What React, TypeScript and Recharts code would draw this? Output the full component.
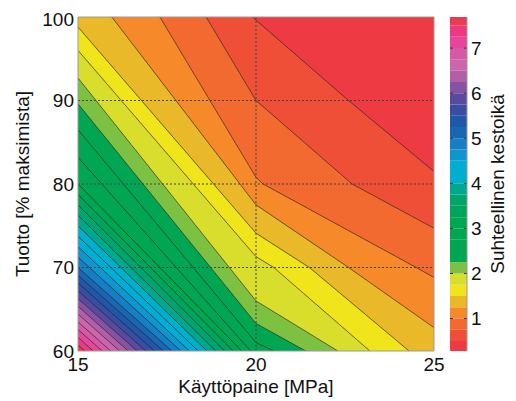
import React from 'react';
import { ComposedChart, BarChart, Area, Line, Bar, XAxis, YAxis, ReferenceLine } from 'recharts';

const FONT = '"Liberation Sans", Arial, sans-serif';

const pressureTicks = [15, 20, 25];
const yieldTicks = [60, 70, 80, 90, 100];
const colorbarTicks = [1, 2, 3, 4, 5, 6, 7];

// contour levels (relative lifetime)
const levels = [
  0.5, 0.75, 1.0, 1.25, 1.5, 1.75, 2.0, 2.25, 2.5, 2.75, 3.0, 3.25, 3.5, 3.75, 4.0,
  4.25, 4.5, 4.75, 5.0, 5.25, 5.5, 5.75, 6.0, 6.25, 6.5, 6.75, 7.0, 7.25, 7.5,
];

// colour of each band, from 0.25 upwards in steps of 0.25
const bandColors = [
  '#ee3a42', '#ef4f37', '#f26a30', '#f68a2b', '#e9b92a', '#efe51a', '#d9dd2c', '#7dc143',
  '#00a651', '#00a651', '#00a651', '#00a651', '#00a55c', '#00a46c', '#00a88e', '#00afcc',
  '#00add4', '#0f96cf', '#167ec4', '#1b66b3', '#2157a8', '#374ea1', '#5a4a9f', '#8653a3',
  '#b25fa8', '#cb66ad', '#d45aa8', '#e5469c', '#ec3a82', '#ee3a4e',
];

// contour lines, [pressure MPa, yield %]
const contourLines = [
  [[19.9, 100], [22.6, 90], [25, 81.5]],
  [[18.6, 100], [20, 90], [22.7, 80], [25, 74.7]],
  [[17.3, 100], [20, 80.8], [20.2, 80], [24.5, 70], [25, 68.8]],
  [[15.95, 100], [20, 77.5], [22.6, 70], [25, 62.8]],
  [[15, 98.8], [20, 74.1], [21.5, 70], [24.3, 60]],
  [[15, 96], [20, 71.3], [20.5, 70], [23.2, 60]],
  [[15, 92.7], [20, 66.0], [22.3, 60]],
  [[15, 89.6], [20, 63.3], [21.4, 60]],
  [[15, 86.5], [20, 61.0], [20.5, 60]],
  [[15, 83.2], [19.85, 60]],
  [[15, 80], [19.6, 60]],
  [[15, 78.75], [19.36, 60]],
  [[15, 77.5], [19.12, 60]],
  [[15, 76.25], [18.87, 60]],
  [[15, 75], [18.62, 60]],
  [[15, 73.75], [18.38, 60]],
  [[15, 72.5], [18.13, 60]],
  [[15, 71.25], [17.89, 60]],
  [[15, 70], [17.64, 60]],
  [[15, 69.07], [17.4, 60]],
  [[15, 68.14], [17.15, 60]],
  [[15, 67.21], [16.91, 60]],
  [[15, 66.28], [16.66, 60]],
  [[15, 65.35], [16.41, 60]],
  [[15, 64.42], [16.17, 60]],
  [[15, 63.49], [15.92, 60]],
  [[15, 62.57], [15.68, 60]],
  [[15, 61.64], [15.43, 60]],
  [[15, 60.71], [15.19, 60]],
];

const gridX = [20];
const gridY = [70, 80, 90];

const toPoints = (line: number[][]) => line.map(([x, y]) => ({ x, y }));

// filled region above each level: everything left/below the contour line
const fillData = (line: number[][]) => {
  const pts = toPoints(line);
  if (line[0][0] > 15) return [{ x: 15, y: 100 }, ...pts];
  return pts;
};

const background = [{ x: 15, y: 100 }, { x: 25, y: 100 }];

// stacked colorbar row: first segment from 0 to the lowest level, then one per band
const colorbarRow: Record<string, number | string> = { name: 'cb', b0: levels[0] };
levels.forEach((lv, i) => {
  colorbarRow[`b${i + 1}`] = i + 1 < levels.length ? levels[i + 1] - lv : lv - levels[i - 1];
});

const tickStyle = { fontSize: 19, fill: '#111', fontFamily: FONT };

export default function App() {
  return (
    <div style={{ position: 'relative', width: 516, height: 393, fontFamily: FONT }}>
      <ComposedChart width={440} height={393} margin={{ top: 9, right: 14, bottom: 0, left: 0 }}>
        <XAxis
          type="number"
          dataKey="x"
          domain={[15, 25]}
          ticks={pressureTicks}
          allowDataOverflow
          height={50}
          tickLine={false}
          axisLine={false}
          tickSize={0}
          tickMargin={7}
          tick={tickStyle}
          label={{ value: 'Käyttöpaine [MPa]', position: 'insideBottom', offset: 8, style: tickStyle }}
        />
        <YAxis
          type="number"
          dataKey="y"
          domain={[60, 100]}
          ticks={yieldTicks}
          allowDataOverflow
          width={70}
          tickLine={false}
          axisLine={false}
          tickSize={0}
          tickMargin={4}
          tick={tickStyle}
          label={{
            value: 'Tuotto [% maksimista]',
            angle: -90,
            position: 'insideLeft',
            offset: 14,
            style: { ...tickStyle, textAnchor: 'middle' },
          }}
        />
        <Area
          data={background}
          dataKey="y"
          type="linear"
          baseValue={60}
          fill={bandColors[0]}
          fillOpacity={1}
          stroke="none"
          dot={false}
          activeDot={false}
          isAnimationActive={false}
        />
        {contourLines.map((line, i) => (
          <Area
            key={`fill-${levels[i]}`}
            data={fillData(line)}
            dataKey="y"
            type="linear"
            baseValue={60}
            fill={bandColors[i + 1]}
            fillOpacity={1}
            stroke="none"
            dot={false}
            activeDot={false}
            isAnimationActive={false}
          />
        ))}
        {contourLines.map((line, i) => (
          <Line
            key={`line-${levels[i]}`}
            data={toPoints(line)}
            dataKey="y"
            type="linear"
            stroke="#222"
            strokeWidth={0.8}
            strokeOpacity={0.8}
            dot={false}
            activeDot={false}
            isAnimationActive={false}
          />
        ))}
        {gridX.map((v) => (
          <ReferenceLine key={`gx${v}`} x={v} stroke="#444" strokeDasharray="2 2" />
        ))}
        {gridY.map((v) => (
          <ReferenceLine key={`gy${v}`} y={v} stroke="#444" strokeDasharray="2 2" />
        ))}
        <ReferenceLine x={15} stroke="#999" />
        <ReferenceLine x={25} stroke="#999" />
        <ReferenceLine y={60} stroke="#999" />
        <ReferenceLine y={100} stroke="#999" />
      </ComposedChart>

      <div style={{ position: 'absolute', left: 442, top: 0 }}>
        <BarChart
          width={66}
          height={393}
          data={[colorbarRow]}
          barCategoryGap={0}
          margin={{ top: 9, right: 0, bottom: 50, left: 0 }}
        >
          <XAxis dataKey="name" hide />
          <YAxis
            yAxisId="edge"
            orientation="left"
            width={0}
            domain={[0.28, 7.69]}
            allowDataOverflow
            tick={false}
            tickLine={false}
            axisLine={{ stroke: '#999' }}
          />
          <YAxis
            orientation="right"
            type="number"
            domain={[0.28, 7.69]}
            ticks={colorbarTicks}
            allowDataOverflow
            width={49}
            tickLine={false}
            tickSize={0}
            tickMargin={4}
            axisLine={{ stroke: '#999' }}
            tick={tickStyle}
            label={{
              value: 'Suhteellinen kestoikä',
              angle: -90,
              position: 'insideRight',
              offset: 19,
              style: { ...tickStyle, textAnchor: 'middle' },
            }}
          />
          {bandColors.map((c, i) => (
            <Bar key={`b${i}`} dataKey={`b${i}`} stackId="cb" fill={c} isAnimationActive={false} />
          ))}
          {colorbarTicks.map((t) => (
            <ReferenceLine key={`ct${t}`} y={t} stroke="#333" strokeDasharray="3 11 3" />
          ))}
        </BarChart>
      </div>
    </div>
  );
}
